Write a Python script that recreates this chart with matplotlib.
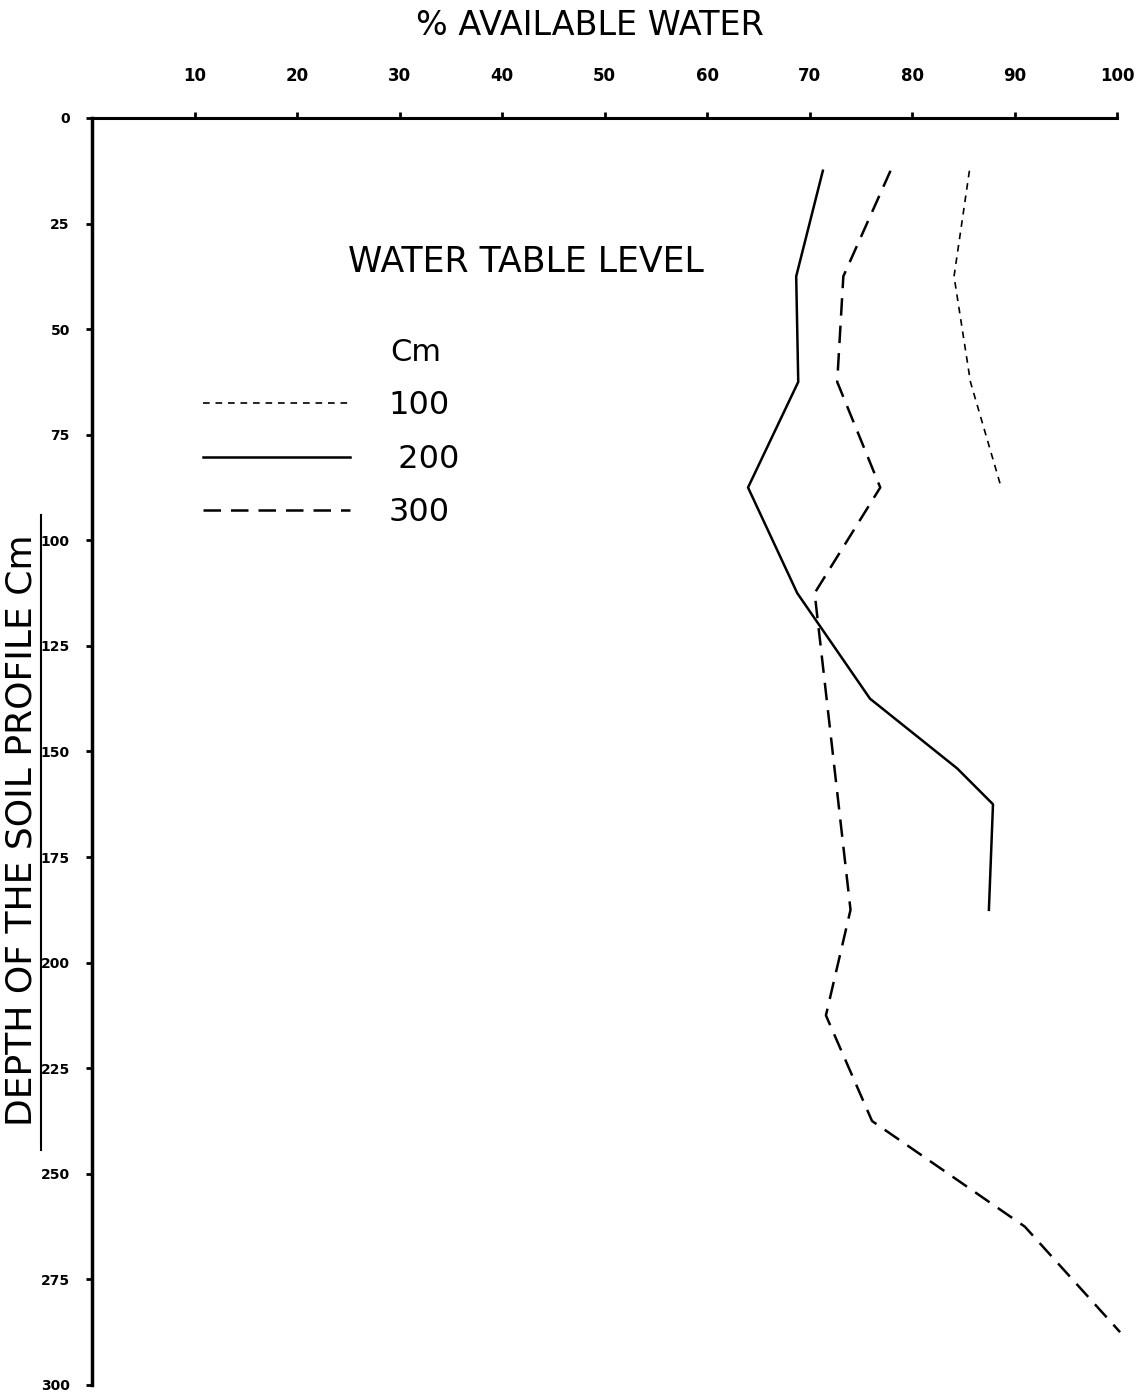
import matplotlib
matplotlib.use('Agg')
import matplotlib.pyplot as plt
from matplotlib.lines import Line2D

# depth (cm) and % available water
depth_100 = [12.5, 37.5, 62.5, 87.5]
water_100 = [85.6, 84.1, 85.7, 88.7]

depth_200 = [12.5, 37.5, 62.5, 87.5, 112.5, 137.5, 154, 162.5, 187.5]
water_200 = [71.3, 68.7, 68.9, 64.0, 68.8, 75.9, 84.4, 87.9, 87.5]

depth_300 = [12.5, 37.5, 62.5, 87.5, 112.5, 187.5, 212.5, 237.5, 262.5, 287.5]
water_300 = [77.9, 73.3, 72.7, 76.9, 70.5, 74.0, 71.6, 76.1, 91.0, 100.3]

x_ticks = [10, 20, 30, 40, 50, 60, 70, 80, 90, 100]
y_ticks = [0, 25, 50, 75, 100, 125, 150, 175, 200, 225, 250, 275, 300]
y_labels = ['0', '25', '50', '75', '100', '125', '150', '175', '200', '225', '250', '275', '300']

fig = plt.figure(figsize=(11.39, 13.96), dpi=100)
ax = fig.add_axes([0.0808, 0.0079, 0.8999, 0.9076])

l1, = ax.plot(water_100, depth_100, color='black', lw=1.2, linestyle=(0, (4, 3.5)), clip_on=False)
l2, = ax.plot(water_200, depth_200, color='black', lw=1.8, clip_on=False)
l3, = ax.plot(water_300, depth_300, color='black', lw=1.8, linestyle=(0, (7, 4)), clip_on=False)

ax.set_xlim(0, 100)
ax.set_ylim(300, 0)
ax.spines['right'].set_visible(False)
ax.spines['bottom'].set_visible(False)
ax.spines['top'].set_linewidth(2.2)
ax.spines['left'].set_linewidth(2.5)

ax.xaxis.tick_top()
ax.set_xticks(x_ticks)
ax.set_xticklabels([str(v) for v in x_ticks], fontsize=12, fontweight='bold')
ax.tick_params(axis='x', direction='out', length=4, width=2, pad=20)
ax.set_yticks(y_ticks)
ax.set_yticklabels(y_labels, fontsize=10, fontweight='bold')
ax.tick_params(axis='y', direction='out', length=4, width=2, pad=12)

fig.text(0.518, 0.982, '% AVAILABLE WATER', fontsize=24, ha='center', va='center')
fig.text(0.019, 0.405, 'DEPTH OF THE SOIL PROFILE Cm', fontsize=26, rotation=90,
         ha='center', va='center')
fig.add_artist(Line2D([0.036, 0.036], [1 - 515 / 1396, 1 - 1150 / 1396],
                      transform=fig.transFigure, color='black', lw=1.5))

ax.text(0.25, 0.886, 'WATER TABLE LEVEL', transform=ax.transAxes, fontsize=25,
        ha='left', va='center')
ax.text(0.291, 0.8145, 'Cm', transform=ax.transAxes, fontsize=22, ha='left', va='center')

ax.legend([l1, l2, l3], ['100', ' 200', '300'], loc='upper left',
          bbox_to_anchor=(0.096, 0.795), frameon=False, fontsize=23,
          handlelength=4.6, handletextpad=1.2, labelspacing=0.70,
          borderaxespad=0)

fig.savefig('out.png', dpi=100)
